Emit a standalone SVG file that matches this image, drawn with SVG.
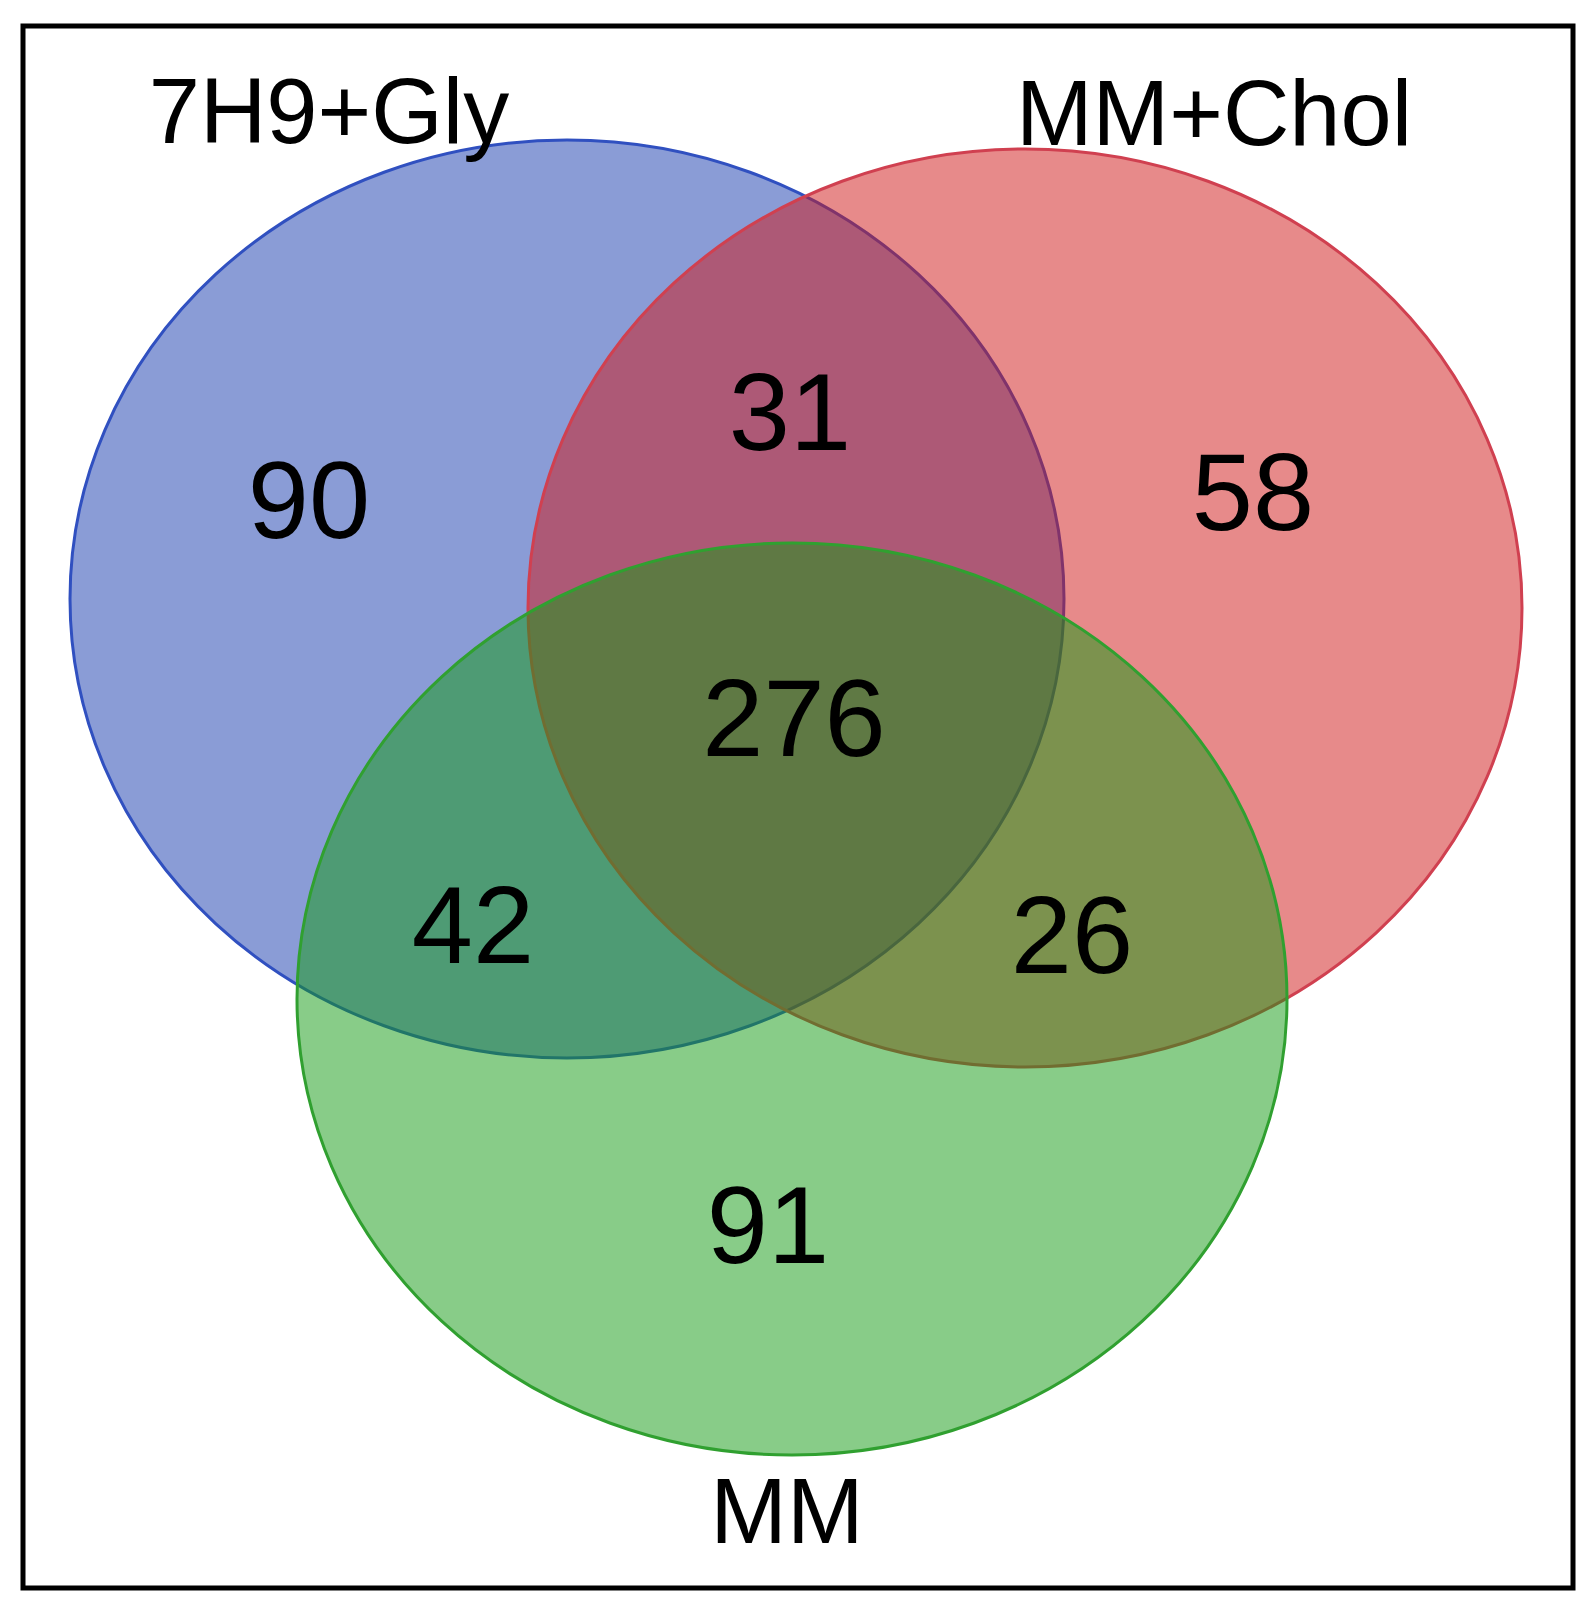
<svg xmlns="http://www.w3.org/2000/svg" width="1595" height="1623" viewBox="0 0 1595 1623">
<style>
.lbl{font-family:"Liberation Sans",Arial,sans-serif;font-size:92px;text-anchor:middle;fill:#000}
.num{font-family:"Liberation Sans",Arial,sans-serif;font-size:110px;text-anchor:middle;fill:#000}
</style>
<rect width="1595" height="1623" fill="#fff"/>
<rect x="23" y="26" width="1550" height="1562" fill="none" stroke="#000" stroke-width="5"/>
<g id="set-7H9Gly"><ellipse cx="567" cy="599" rx="497" ry="459" fill="#1539ad" fill-opacity="0.5" stroke="#3050c0" stroke-width="3"/></g>
<g id="set-MMChol"><ellipse cx="1025" cy="608" rx="497" ry="459" fill="#cf1515" fill-opacity="0.5" stroke="#d04050" stroke-width="3"/></g>
<g id="set-MM"><ellipse cx="792" cy="999" rx="495" ry="456" fill="#119911" fill-opacity="0.5" stroke="#30a030" stroke-width="3"/></g>
<g id="labels">
<text class="lbl" x="329" y="143">7H9+Gly</text>
<text class="lbl" x="1214" y="145">MM+Chol</text>
<text class="lbl" x="787" y="1543">MM</text>
</g>
<g id="counts">
<text class="num" x="309" y="538">90</text>
<text class="num" x="790" y="450">31</text>
<text class="num" x="1253" y="530">58</text>
<text class="num" x="794" y="756">276</text>
<text class="num" x="473" y="963">42</text>
<text class="num" x="1072" y="973">26</text>
<text class="num" x="768" y="1263">91</text>
</g>
</svg>
